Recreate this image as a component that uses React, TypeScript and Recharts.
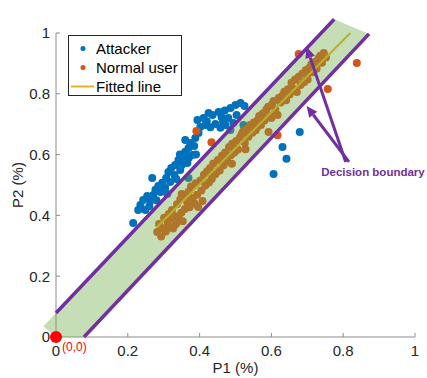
import {
  ScatterChart,
  Scatter,
  XAxis,
  YAxis,
  ReferenceArea,
  ReferenceLine,
  ReferenceDot,
  Legend,
} from "recharts";

const ticks = [0, 0.2, 0.4, 0.6, 0.8, 1];

const attacker = [
  { x: 0.215, y: 0.375 }, { x: 0.229, y: 0.418 }, { x: 0.235, y: 0.434 },
  { x: 0.243, y: 0.451 }, { x: 0.249, y: 0.418 }, { x: 0.254, y: 0.464 },
  { x: 0.263, y: 0.447 }, { x: 0.271, y: 0.467 }, { x: 0.277, y: 0.484 },
  { x: 0.285, y: 0.497 }, { x: 0.291, y: 0.477 }, { x: 0.296, y: 0.507 },
  { x: 0.304, y: 0.49 }, { x: 0.307, y: 0.523 }, { x: 0.313, y: 0.543 },
  { x: 0.321, y: 0.556 }, { x: 0.33, y: 0.533 }, { x: 0.318, y: 0.51 },
  { x: 0.332, y: 0.566 }, { x: 0.341, y: 0.582 }, { x: 0.346, y: 0.549 },
  { x: 0.355, y: 0.589 }, { x: 0.36, y: 0.609 }, { x: 0.366, y: 0.572 },
  { x: 0.369, y: 0.622 }, { x: 0.374, y: 0.638 }, { x: 0.38, y: 0.599 },
  { x: 0.36, y: 0.648 }, { x: 0.388, y: 0.655 }, { x: 0.397, y: 0.671 },
  { x: 0.402, y: 0.691 }, { x: 0.385, y: 0.628 }, { x: 0.394, y: 0.714 },
  { x: 0.411, y: 0.72 }, { x: 0.425, y: 0.737 }, { x: 0.436, y: 0.73 },
  { x: 0.453, y: 0.74 }, { x: 0.461, y: 0.724 }, { x: 0.444, y: 0.701 },
  { x: 0.458, y: 0.688 }, { x: 0.472, y: 0.697 }, { x: 0.486, y: 0.681 },
  { x: 0.494, y: 0.704 }, { x: 0.48, y: 0.72 }, { x: 0.486, y: 0.753 },
  { x: 0.5, y: 0.763 }, { x: 0.514, y: 0.77 }, { x: 0.525, y: 0.76 },
  { x: 0.503, y: 0.73 }, { x: 0.416, y: 0.697 }, { x: 0.268, y: 0.523 },
  { x: 0.31, y: 0.47 }, { x: 0.335, y: 0.52 }, { x: 0.35, y: 0.565 },
  { x: 0.345, y: 0.6 }, { x: 0.37, y: 0.59 }, { x: 0.39, y: 0.6 },
  { x: 0.42, y: 0.71 }, { x: 0.43, y: 0.69 }, { x: 0.465, y: 0.71 },
  { x: 0.47, y: 0.745 }, { x: 0.28, y: 0.45 }, { x: 0.26, y: 0.43 },
  { x: 0.369, y: 0.523 }, { x: 0.522, y: 0.697 },
  { x: 0.679, y: 0.674 }, { x: 0.631, y: 0.625 }, { x: 0.642, y: 0.586 },
  { x: 0.606, y: 0.536 },
];

const normalUser = [
  { x: 0.282, y: 0.345 }, { x: 0.287, y: 0.372 }, { x: 0.293, y: 0.331 }, { x: 0.298, y: 0.358 },
  { x: 0.301, y: 0.392 }, { x: 0.306, y: 0.347 }, { x: 0.311, y: 0.376 }, { x: 0.314, y: 0.405 },
  { x: 0.317, y: 0.362 }, { x: 0.323, y: 0.418 }, { x: 0.326, y: 0.357 }, { x: 0.331, y: 0.398 },
  { x: 0.334, y: 0.371 }, { x: 0.337, y: 0.437 }, { x: 0.342, y: 0.388 }, { x: 0.346, y: 0.452 },
  { x: 0.349, y: 0.409 }, { x: 0.353, y: 0.381 }, { x: 0.357, y: 0.463 }, { x: 0.359, y: 0.421 },
  { x: 0.366, y: 0.441 }, { x: 0.369, y: 0.478 }, { x: 0.372, y: 0.427 }, { x: 0.376, y: 0.495 },
  { x: 0.381, y: 0.457 }, { x: 0.386, y: 0.439 }, { x: 0.389, y: 0.506 }, { x: 0.393, y: 0.468 },
  { x: 0.396, y: 0.428 }, { x: 0.402, y: 0.515 }, { x: 0.405, y: 0.482 }, { x: 0.408, y: 0.447 },
  { x: 0.412, y: 0.534 }, { x: 0.416, y: 0.498 }, { x: 0.421, y: 0.545 }, { x: 0.426, y: 0.508 },
  { x: 0.429, y: 0.556 }, { x: 0.434, y: 0.52 }, { x: 0.438, y: 0.571 }, { x: 0.444, y: 0.535 },
  { x: 0.451, y: 0.582 }, { x: 0.456, y: 0.548 }, { x: 0.462, y: 0.596 }, { x: 0.467, y: 0.565 },
  { x: 0.471, y: 0.607 }, { x: 0.477, y: 0.578 }, { x: 0.482, y: 0.625 }, { x: 0.487, y: 0.598 },
  { x: 0.491, y: 0.636 }, { x: 0.497, y: 0.607 }, { x: 0.502, y: 0.645 }, { x: 0.507, y: 0.617 },
  { x: 0.512, y: 0.656 }, { x: 0.517, y: 0.668 }, { x: 0.521, y: 0.676 }, { x: 0.526, y: 0.638 },
  { x: 0.528, y: 0.618 }, { x: 0.532, y: 0.684 }, { x: 0.536, y: 0.659 }, { x: 0.541, y: 0.697 },
  { x: 0.547, y: 0.672 }, { x: 0.551, y: 0.706 }, { x: 0.556, y: 0.68 }, { x: 0.562, y: 0.714 },
  { x: 0.566, y: 0.727 }, { x: 0.571, y: 0.697 }, { x: 0.576, y: 0.735 }, { x: 0.581, y: 0.712 },
  { x: 0.586, y: 0.748 }, { x: 0.592, y: 0.674 }, { x: 0.591, y: 0.757 }, { x: 0.597, y: 0.728 },
  { x: 0.602, y: 0.766 }, { x: 0.606, y: 0.776 }, { x: 0.611, y: 0.748 }, { x: 0.617, y: 0.73 },
  { x: 0.621, y: 0.787 }, { x: 0.626, y: 0.771 }, { x: 0.632, y: 0.796 }, { x: 0.636, y: 0.807 },
  { x: 0.641, y: 0.779 }, { x: 0.646, y: 0.815 }, { x: 0.651, y: 0.798 }, { x: 0.656, y: 0.836 },
  { x: 0.661, y: 0.817 }, { x: 0.666, y: 0.847 }, { x: 0.671, y: 0.806 }, { x: 0.676, y: 0.856 },
  { x: 0.681, y: 0.829 }, { x: 0.686, y: 0.866 }, { x: 0.691, y: 0.838 }, { x: 0.696, y: 0.878 },
  { x: 0.701, y: 0.847 }, { x: 0.706, y: 0.886 }, { x: 0.711, y: 0.896 }, { x: 0.716, y: 0.871 },
  { x: 0.721, y: 0.905 }, { x: 0.726, y: 0.882 }, { x: 0.731, y: 0.916 }, { x: 0.736, y: 0.925 },
  { x: 0.741, y: 0.902 }, { x: 0.746, y: 0.934 }, { x: 0.752, y: 0.919 },
  { x: 0.49, y: 0.57 }, { x: 0.6, y: 0.72 }, { x: 0.35, y: 0.47 },
  { x: 0.32, y: 0.39 }, { x: 0.37, y: 0.46 }, { x: 0.43, y: 0.54 }, { x: 0.5, y: 0.62 },
  { x: 0.56, y: 0.69 }, { x: 0.64, y: 0.79 }, { x: 0.7, y: 0.86 }, { x: 0.47, y: 0.585 },
  { x: 0.391, y: 0.678 }, { x: 0.433, y: 0.641 }, { x: 0.617, y: 0.664 },
  { x: 0.676, y: 0.931 }, { x: 0.757, y: 0.816 }, { x: 0.838, y: 0.901 },
];

const fittedLine = [{ x: 0.28, y: 0.36 }, { x: 0.82, y: 1.0 }];
const upperBoundary = [{ x: 0, y: 0.079 }, { x: 0.775, y: 1.045 }];
const lowerBoundary = [{ x: 0.078, y: 0 }, { x: 0.872, y: 0.997 }];
const band = [
  { x: -0.035, y: 0.035 },
  { x: 0, y: 0 },
  { x: 0.078, y: 0 },
  { x: 0.872, y: 0.997 },
  { x: 0.775, y: 1.045 },
];
const arrows = [
  [{ x: 0.807, y: 0.576 }, { x: 0.698, y: 0.954 }],
  [{ x: 0.816, y: 0.576 }, { x: 0.698, y: 0.76 }],
];
const noteAt = { x: 0.883, y: 0.543 };

const BLUE = "#0072BD";
const ORANGE = "#D95319";
const PURPLE = "#7030A0";
const FONT = '"Liberation Sans", Arial, sans-serif';

const dot = (color: string) => (p: any) =>
  <circle cx={p.cx} cy={p.cy} r={4} fill={color} />;

// ReferenceArea spans [0,1]x[0,1], so its rect gives the data->pixel map
const BandShape = (p: any) => {
  const px = (v: number) => p.x + v * p.width;
  const py = (v: number) => p.y + (1 - v) * p.height;
  const pts = band.map((b) => `${px(b.x)},${py(b.y)}`).join(" ");
  return <polygon points={pts} fill="#70AD47" fillOpacity={0.4} />;
};

const ArrowShape = (p: any) => {
  const { x1, y1, x2, y2 } = p;
  const dx = x2 - x1;
  const dy = y2 - y1;
  const len = Math.sqrt(dx * dx + dy * dy);
  const ux = dx / len;
  const uy = dy / len;
  const bx = x2 - ux * 11;
  const by = y2 - uy * 11;
  const head = `${x2},${y2} ${bx - uy * 5},${by + ux * 5} ${bx + uy * 5},${by - ux * 5}`;
  return (
    <g>
      <line x1={x1} y1={y1} x2={bx} y2={by} stroke={PURPLE} strokeWidth={3} />
      <polygon points={head} fill={PURPLE} />
    </g>
  );
};

const OriginShape = (p: any) => (
  <g>
    <circle cx={p.cx} cy={p.cy} r={6} fill="#FF0000" />
    <text x={p.cx + 6} y={p.cy + 14} fill="#FF0000" fontSize={12} fontFamily={FONT}>
      (0,0)
    </text>
  </g>
);

const NoteShape = (p: any) => (
  <text
    x={p.cx}
    y={p.cy + 4}
    textAnchor="middle"
    fill={PURPLE}
    fontSize={11.5}
    fontWeight="bold"
    fontFamily={FONT}
  >
    Decision boundary
  </text>
);

const legendItems = [
  { name: "Attacker", color: BLUE, kind: "dot" },
  { name: "Normal user", color: ORANGE, kind: "dot" },
  { name: "Fitted line", color: "#EDB120", kind: "line" },
];

const LegendBox = () => (
  <div
    style={{
      width: 114,
      height: 61,
      boxSizing: "border-box",
      border: "1px solid #262626",
      background: "#fff",
      paddingTop: 3,
      fontFamily: FONT,
      fontSize: 15,
      color: "#000",
    }}
  >
    {legendItems.map((it) => (
      <div key={it.name} style={{ display: "flex", alignItems: "center", height: 19 }}>
        <svg width={26} height={19} style={{ marginLeft: 1 }}>
          {it.kind === "dot" ? (
            <circle cx={13} cy={9.5} r={2.5} fill={it.color} />
          ) : (
            <line x1={1} y1={9.5} x2={24} y2={9.5} stroke={it.color} strokeWidth={2} />
          )}
        </svg>
        <span style={{ lineHeight: "19px" }}>{it.name}</span>
      </div>
    ))}
  </div>
);

export default function App() {
  return (
    <div style={{ position: "absolute", left: 0, top: 0 }}>
      <ScatterChart
        width={427}
        height={378}
        margin={{ top: 33, right: 12, left: 0, bottom: 0 }}
        style={{ fontFamily: FONT }}
      >
        <XAxis
          type="number"
          dataKey="x"
          domain={[0, 1]}
          ticks={ticks}
          height={41}
          stroke="#8c8c8c"
          tickSize={-4}
          tickMargin={12}
          tick={{ fill: "#262626", fontSize: 15 }}
          label={{
            value: "P1 (%)",
            position: "insideBottom",
            offset: 5,
            fill: "#262626",
            fontSize: 15,
          }}
        />
        <YAxis
          type="number"
          dataKey="y"
          domain={[0, 1]}
          ticks={ticks}
          width={56}
          stroke="#8c8c8c"
          tickSize={-4}
          tickMargin={10}
          tick={{ fill: "#262626", fontSize: 15 }}
          label={{
            value: "P2 (%)",
            angle: -90,
            position: "insideLeft",
            offset: 18,
            fill: "#262626",
            fontSize: 15,
            style: { textAnchor: "middle" },
          }}
        />
        <Legend
          layout="vertical"
          align="center"
          verticalAlign="middle"
          content={<LegendBox />}
          wrapperStyle={{ left: 68, top: 35, width: "auto", height: "auto" }}
        />
        <Scatter
          name="Attacker"
          data={attacker}
          fill={BLUE}
          shape={dot(BLUE)}
          isAnimationActive={false}
          zIndex={600}
        />
        <Scatter
          name="Normal user"
          data={normalUser}
          fill={ORANGE}
          shape={dot(ORANGE)}
          isAnimationActive={false}
          zIndex={610}
        />
        <ReferenceLine
          segment={fittedLine}
          stroke="#EDB120"
          strokeWidth={2}
          ifOverflow="visible"
          zIndex={620}
        />
        <ReferenceArea
          x1={0}
          x2={1}
          y1={0}
          y2={1}
          shape={BandShape}
          ifOverflow="visible"
          zIndex={630}
        />
        <ReferenceLine
          segment={upperBoundary}
          stroke={PURPLE}
          strokeWidth={3.5}
          ifOverflow="visible"
          zIndex={640}
        />
        <ReferenceLine
          segment={lowerBoundary}
          stroke={PURPLE}
          strokeWidth={3.5}
          ifOverflow="visible"
          zIndex={640}
        />
        {arrows.map((a, i) => (
          <ReferenceLine
            key={i}
            segment={a}
            shape={ArrowShape}
            ifOverflow="visible"
            zIndex={650}
          />
        ))}
        <ReferenceDot x={noteAt.x} y={noteAt.y} r={0} shape={NoteShape} ifOverflow="visible" zIndex={650} />
        <ReferenceDot x={0} y={0} r={6} shape={OriginShape} ifOverflow="visible" zIndex={700} />
      </ScatterChart>
    </div>
  );
}
